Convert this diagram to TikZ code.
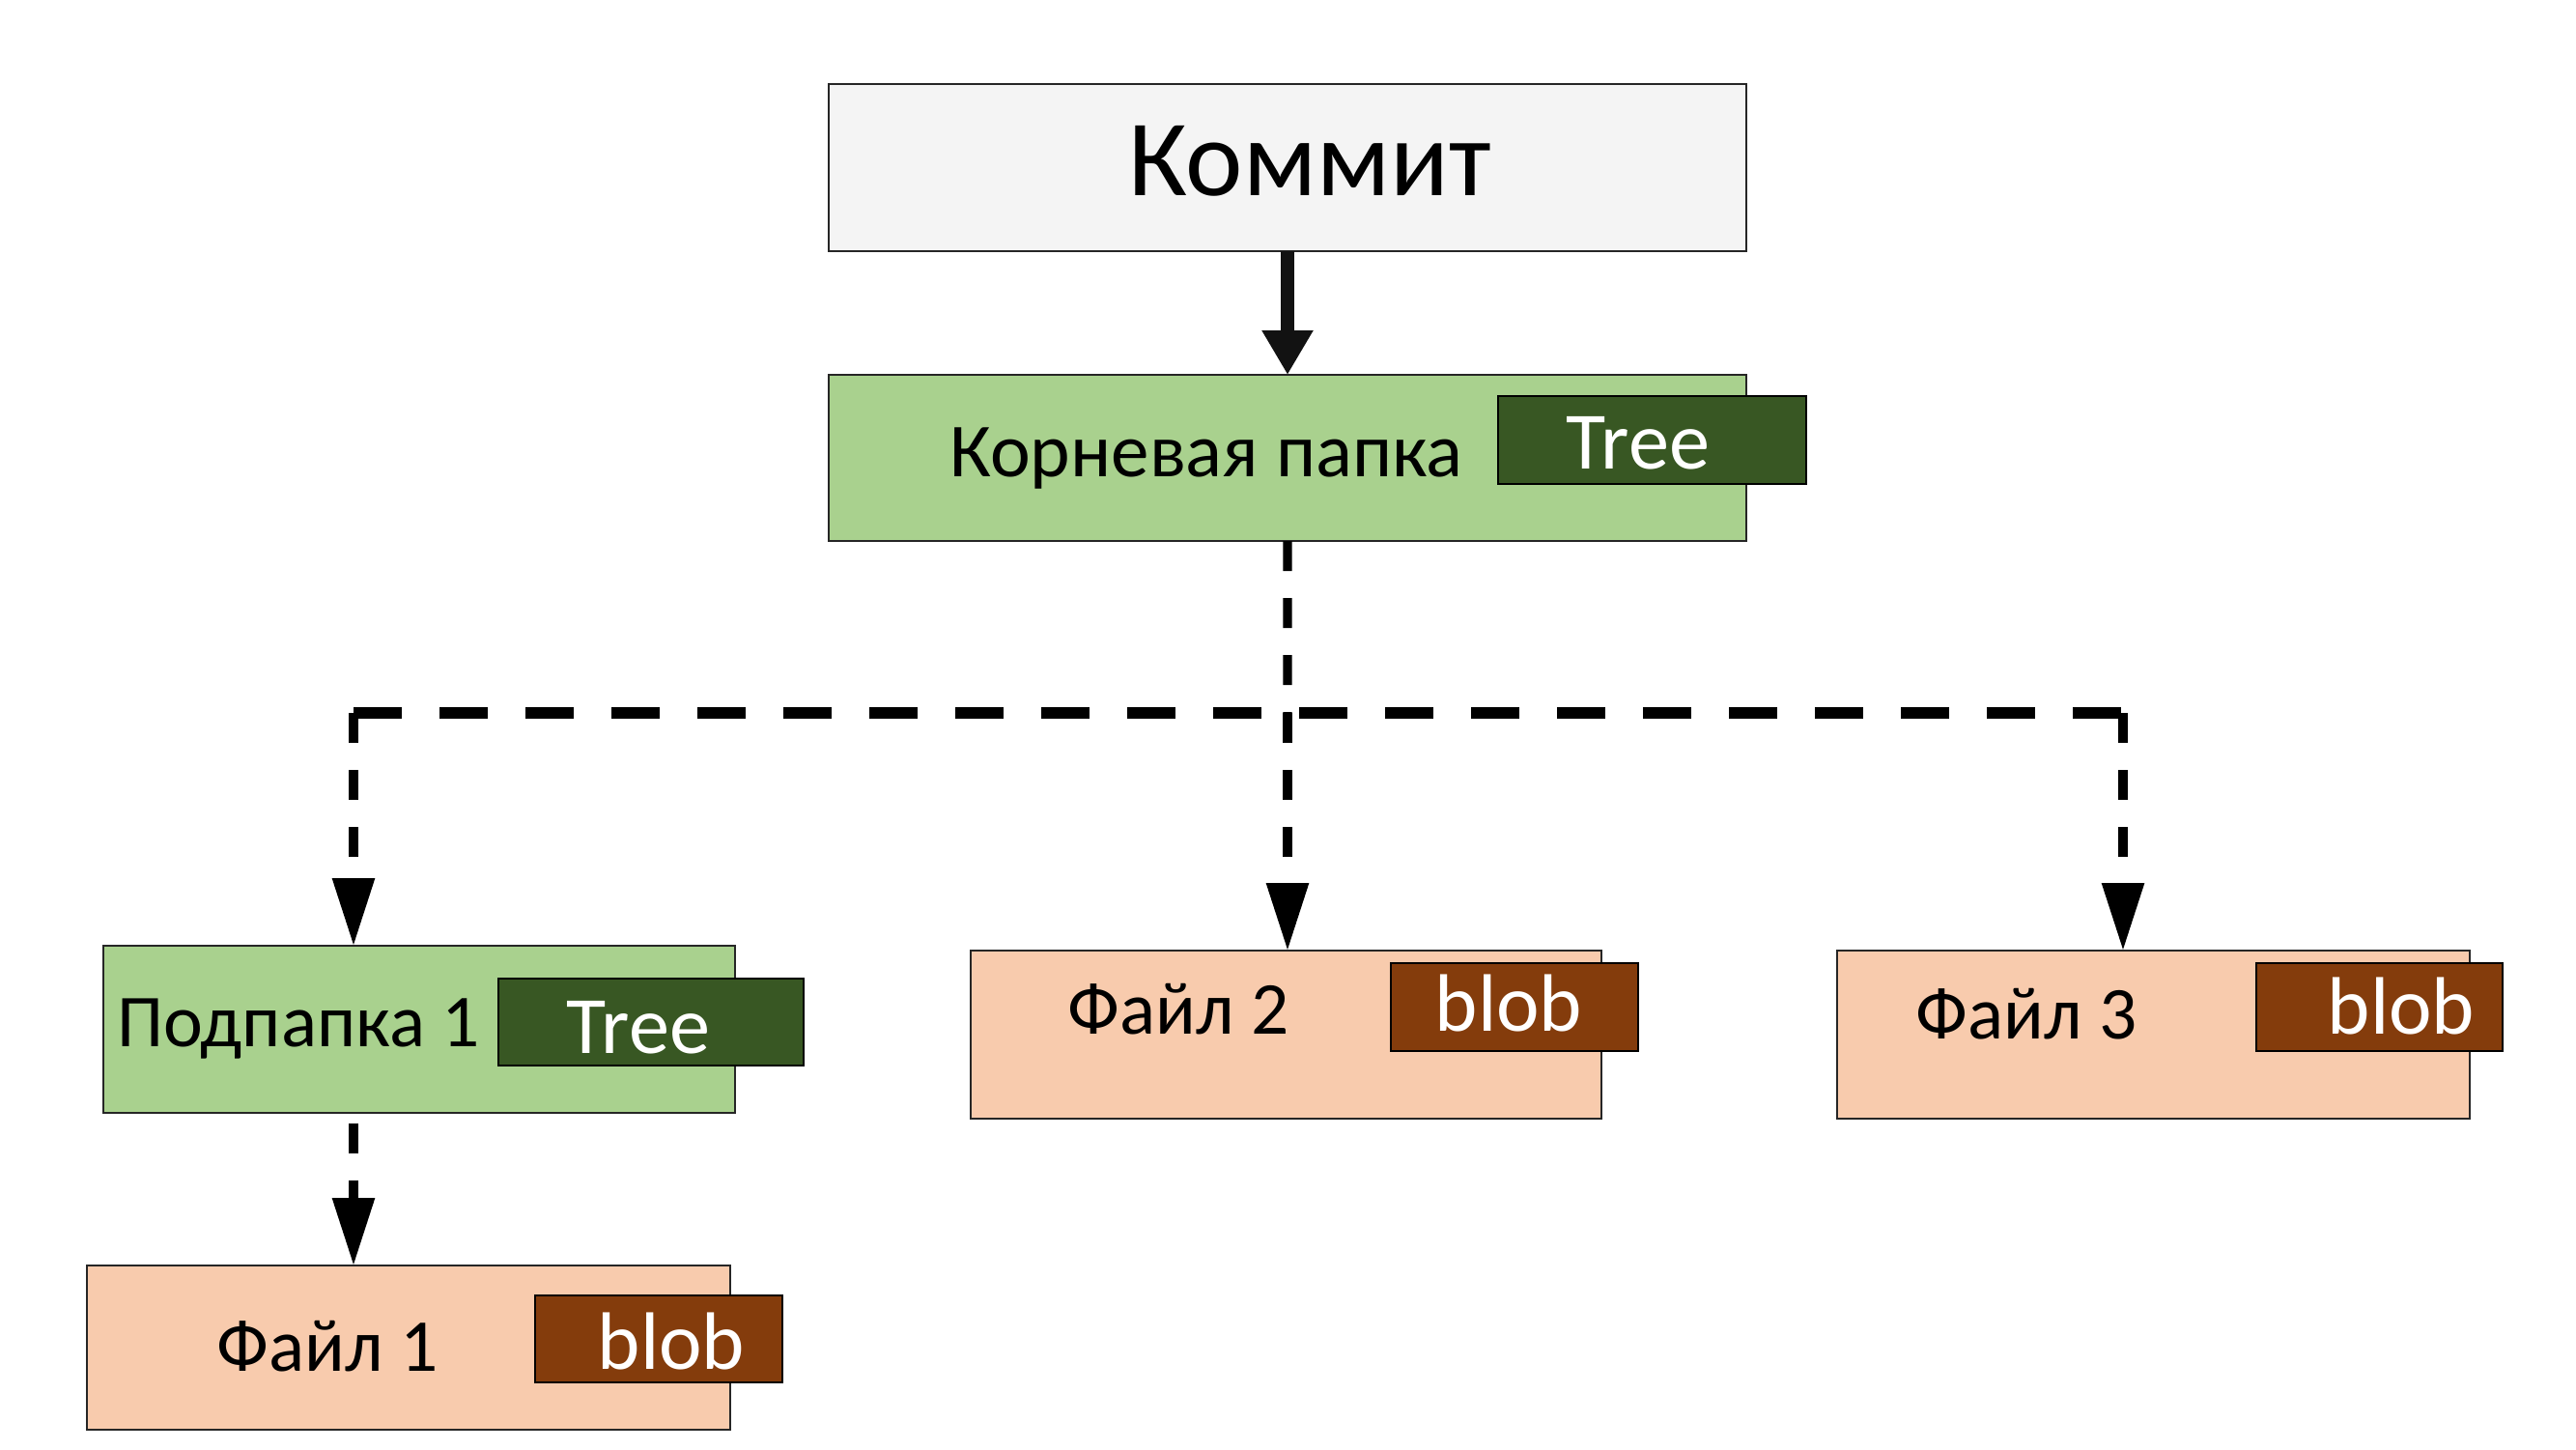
\documentclass[tikz,border=0pt]{standalone}
\usepackage{fontspec}
\setmainfont{Carlito}
\usetikzlibrary{arrows.meta,calc}
\definecolor{commitfill}{HTML}{F4F4F4}
\definecolor{treefill}{HTML}{A9D18E}
\definecolor{treetag}{HTML}{385723}
\definecolor{filefill}{HTML}{F8CBAD}
\definecolor{blobtag}{HTML}{843C0C}
\definecolor{edgecol}{HTML}{262626}
\begin{document}
\begin{tikzpicture}[
  box/.style={draw=edgecol, line width=0.8pt, inner sep=0pt, outer sep=0pt, anchor=north west},
  commitbox/.style={box, fill=commitfill},
  treebox/.style={box, fill=treefill},
  filebox/.style={box, fill=filefill},
  tagtree/.style={box, draw=black, fill=treetag},
  tagblob/.style={box, draw=black, fill=blobtag},
  lbl/.style={inner sep=0pt, anchor=base, font=\fontsize{22}{26}\selectfont},
  biglbl/.style={inner sep=0pt, anchor=base, font=\fontsize{32}{38}\selectfont},
  taglbl/.style={inner sep=0pt, anchor=base, text=white, font=\fontsize{24}{28}\selectfont},
  solidarrow/.style={draw=black!93, line width=4pt, -{Triangle[length=0.46cm,width=0.5cm]}},
  dasharrow/.style={line width=2.6pt, dash pattern=on 0.31cm off 0.28cm, -{Triangle[length=0.7cm,width=0.42cm]}},
  dashline/.style={line width=2.6pt, dash pattern=on 0.31cm off 0.28cm},
  hdash/.style={line width=3.2pt, dash pattern=on 0.5cm off 0.39cm}
]
\useasboundingbox (0,0) rectangle (26.67,-15);

% boxes
\node[commitbox, minimum width=9.50cm, minimum height=1.73cm] (commit) at (8.58,-0.87) {};
\node[treebox, minimum width=9.50cm, minimum height=1.72cm] (root) at (8.58,-3.88) {};
\node[tagtree, minimum width=3.19cm, minimum height=0.91cm] (roottag) at (15.51,-4.10) {};

\node[treebox, minimum width=6.54cm, minimum height=1.73cm] (sub) at (1.07,-9.79) {};
\node[tagtree, minimum width=3.16cm, minimum height=0.90cm] (subtag) at (5.16,-10.13) {};

\node[filebox, minimum width=6.66cm, minimum height=1.70cm] (f1) at (0.90,-13.10) {};
\node[tagblob, minimum width=2.56cm, minimum height=0.90cm] (f1tag) at (5.54,-13.41) {};

\node[filebox, minimum width=6.53cm, minimum height=1.74cm] (f2) at (10.05,-9.84) {};
\node[tagblob, minimum width=2.56cm, minimum height=0.91cm] (f2tag) at (14.40,-9.97) {};

\node[filebox, minimum width=6.55cm, minimum height=1.74cm] (f3) at (19.02,-9.84) {};
\node[tagblob, minimum width=2.55cm, minimum height=0.91cm] (f3tag) at (23.36,-9.97) {};

% texts
\node[biglbl] (commitlbl) at (13.56,-2.02) {Коммит};
\node[lbl, font=\fontsize{22.5}{27}\selectfont] (rootlbl) at (12.49,-4.93) {Корневая папка};
\node[taglbl] (roottaglbl) at (16.96,-4.85) {Tree};
\node[lbl] (sublbl) at (3.09,-10.83) {Подпапка 1};
\node[taglbl] (subtaglbl) at (6.61,-10.90) {Tree};
\node[lbl] (f1lbl) at (3.39,-14.19) {Файл 1};
\node[taglbl] (f1taglbl) at (6.95,-14.17) {blob};
\node[lbl] (f2lbl) at (12.20,-10.70) {Файл 2};
\node[taglbl] (f2taglbl) at (15.62,-10.67) {blob};
\node[lbl] (f3lbl) at (20.98,-10.75) {Файл 3};
\node[taglbl] (f3taglbl) at (24.86,-10.70) {blob};

% connectors
\coordinate (hub) at (13.33,-7.38);
\coordinate (L) at (3.66,-7.38);
\coordinate (R) at (21.98,-7.38);

\draw[solidarrow] (commit.south) -- (root.north);
\draw[dashline] (root.south) -- (hub);
\draw[hdash] (L) -- (R);
\draw[dasharrow] (L) -- (L |- sub.north);
\draw[dasharrow] (hub) -- (hub |- f2.north);
\draw[dasharrow] (R) -- (R |- f3.north);
\draw[dasharrow] ($(L |- sub.south)+(0,-0.11)$) -- (L |- f1.north);
\end{tikzpicture}
\end{document}
